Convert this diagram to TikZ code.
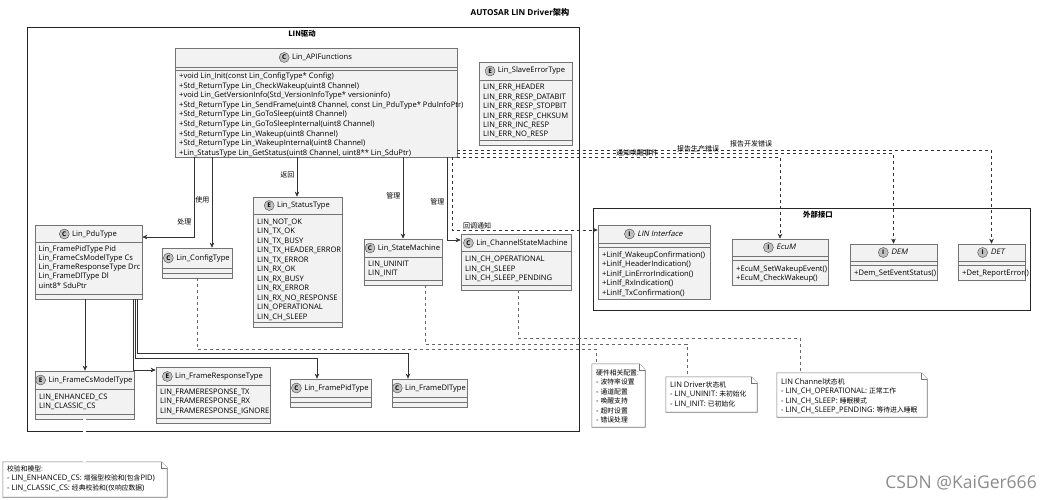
\documentclass[tikz,border=0pt]{standalone}
\usepackage{fontspec}
\setmainfont{Open Sans}
\newfontfamily\cjkfont{Noto Sans CJK SC}
\newfontfamily\slfont[FakeSlant=0.2]{Open Sans}
\newcommand{\cjk}[1]{{\cjkfont\fontsize{6.8}{9.5}\selectfont #1}}
\usetikzlibrary{positioning,fit,calc,arrows.meta}

% class frame: name, x1, y1, x2, y2, separator 1, separator 2
\newcommand{\umlframe}[7]{%
  \node[classbox, fit={(#2,#3) (#4,#5)}] (#1) {};
  \draw[sepline] (#1.west |- 0,#6) -- (#1.east |- 0,#6);
  \draw[sepline] (#1.west |- 0,#7) -- (#1.east |- 0,#7);
}
% class header: name, letter, title, y
\newcommand{\umlhead}[4]{%
  \node[hdr] (#1-t) at ($(#1.north |- 0,#4)+(6,0)$) {#3};
  \node[icon, left=2.5pt of #1-t] (#1-i) {#2};
}
% note: name, x1, y1, x2, y2
\newcommand{\umlnote}[5]{%
  \node[fit={(#2,#3) (#4,#5)}, inner sep=0pt] (#1) {};
  \draw[notebox] (#1.north west) -- ([xshift=-6pt]#1.north east)
    -- ([yshift=-6pt]#1.north east) -- (#1.south east) -- (#1.south west) -- cycle;
  \draw[notebox] ([xshift=-6pt]#1.north east) |- ([yshift=-6pt]#1.north east);
}

\begin{document}
\begin{tikzpicture}[x=1pt,y=-1pt,font=\fontsize{7.6}{9.5}\selectfont,
  classbox/.style={draw=black!55, fill=black!5, inner sep=0pt, line width=0.6pt},
  sepline/.style={draw=black!55, line width=0.5pt},
  pkg/.style={draw=black!85, fill=white, inner sep=0pt, line width=1pt},
  pkgtitle/.style={inner sep=0pt, font=\fontsize{7.4}{8}\selectfont\bfseries\cjkfont},
  hdr/.style={inner sep=0pt, text height=5.7pt, text depth=1.7pt},
  icon/.style={circle, draw=black!70, fill=black!25, inner sep=0pt, minimum size=10pt,
    font=\fontsize{6.4}{6}\selectfont\bfseries},
  item/.style={anchor=west, inner sep=0pt, text height=5.7pt, text depth=1.7pt},
  link/.style={draw=black!80, line width=0.6pt, -{Stealth[length=5pt,width=4.5pt,inset=1.5pt]}},
  dlink/.style={link, dash pattern=on 3pt off 3pt},
  notelink/.style={draw=black!60, line width=0.6pt, dash pattern=on 3pt off 3pt},
  notebox/.style={draw=black!55, fill=white, line width=0.6pt},
  lbl/.style={inner sep=0.5pt, font=\fontsize{7}{8}\selectfont\cjkfont}]

\fill[white] (0,0) rectangle (1044,500);
\useasboundingbox (0,0) rectangle (1044,500);

\node[font=\fontsize{8.2}{9}\selectfont\bfseries] (title) at (520,12)
  {AUTOSAR LIN Driver{\cjkfont 架构}};

% packages
\node[pkg, fit={(27,28) (579,431)}] (drv) {};
\node[pkgtitle] (drv-t) at (302,34) {LIN驱动};
\node[pkg, fit={(593,208) (1030,310)}] (ext) {};
\node[pkgtitle] (ext-t) at (818,215) {外部接口};

% LIN driver classes
\umlframe{api}{175}{48}{457}{157}{67}{70}
\umlhead{api}{C}{Lin\_APIFunctions}{57.5}
\foreach \t [count=\i] in {+void Lin\_Init(const Lin\_ConfigType* Config),
  +Std\_ReturnType Lin\_CheckWakeup(uint8 Channel),
  +void Lin\_GetVersionInfo(Std\_VersionInfoType* versioninfo),
  {+Std\_ReturnType Lin\_SendFrame(uint8 Channel, const Lin\_PduType* PduInfoPtr)},
  +Std\_ReturnType Lin\_GoToSleep(uint8 Channel),
  +Std\_ReturnType Lin\_GoToSleepInternal(uint8 Channel),
  +Std\_ReturnType Lin\_Wakeup(uint8 Channel),
  +Std\_ReturnType Lin\_WakeupInternal(uint8 Channel),
  {+Lin\_StatusType Lin\_GetStatus(uint8 Channel, uint8** Lin\_SduPtr)}}
  \node[item] (api-\i) at (179,66.9+9.6*\i) {\t};

\umlframe{sle}{479}{62}{572}{145}{80}{140}
\umlhead{sle}{E}{Lin\_SlaveErrorType}{71}
\foreach \t [count=\i] in {LIN\_ERR\_HEADER, LIN\_ERR\_RESP\_DATABIT, LIN\_ERR\_RESP\_STOPBIT,
  LIN\_ERR\_RESP\_CHKSUM, LIN\_ERR\_INC\_RESP, LIN\_ERR\_NO\_RESP}
  \node[item] (sle-\i) at (483,78.6+9.4*\i) {\t};

\umlframe{pdu}{35}{225}{142}{299}{242}{294}
\umlhead{pdu}{C}{Lin\_PduType}{234}
\foreach \t [count=\i] in {Lin\_FramePidType Pid, Lin\_FrameCsModelType Cs,
  Lin\_FrameResponseType Drc, Lin\_FrameDlType Dl, uint8* SduPtr}
  \node[item] (pdu-\i) at (38.5,239.7+9.3*\i) {\t};

\umlframe{cfg}{162}{248}{232}{278}{268}{273}
\umlhead{cfg}{C}{Lin\_ConfigType}{258}

\umlframe{st}{253}{197}{342}{327}{214}{322}
\umlhead{st}{E}{Lin\_StatusType}{205.5}
\foreach \t [count=\i] in {LIN\_NOT\_OK, LIN\_TX\_OK, LIN\_TX\_BUSY, LIN\_TX\_HEADER\_ERROR,
  LIN\_TX\_ERROR, LIN\_RX\_OK, LIN\_RX\_BUSY, LIN\_RX\_ERROR, LIN\_RX\_NO\_RESPONSE,
  LIN\_OPERATIONAL, LIN\_CH\_SLEEP}
  \node[item] (st-\i) at (257,212.5+9.5*\i) {\t};

\umlframe{sm}{364}{239}{442}{285}{257}{280}
\umlhead{sm}{C}{Lin\_StateMachine}{248}
\foreach \t [count=\i] in {LIN\_UNINIT, LIN\_INIT}
  \node[item] (sm-\i) at (368,254.5+9.5*\i) {\t};

\umlframe{chsm}{461}{234}{571}{290}{251}{285}
\umlhead{chsm}{C}{Lin\_ChannelStateMachine}{243}
\foreach \t [count=\i] in {LIN\_CH\_OPERATIONAL, LIN\_CH\_SLEEP, LIN\_CH\_SLEEP\_PENDING}
  \node[item] (chsm-\i) at (465,250+9.5*\i) {\t};

\umlframe{csm}{35}{371}{134}{419}{389}{414}
\umlhead{csm}{E}{Lin\_FrameCsModelType}{380}
\foreach \t [count=\i] in {LIN\_ENHANCED\_CS, LIN\_CLASSIC\_CS}
  \node[item] (csm-\i) at (39,387.5+9.5*\i) {\t};

\umlframe{frt}{156}{367}{270}{423}{385}{418}
\umlhead{frt}{E}{Lin\_FrameResponseType}{376.5}
\foreach \t [count=\i] in {LIN\_FRAMERESPONSE\_TX, LIN\_FRAMERESPONSE\_RX, LIN\_FRAMERESPONSE\_IGNORE}
  \node[item] (frt-\i) at (160,382.5+9.5*\i) {\t};

\umlframe{pid}{290}{379}{371}{407}{397}{402}
\umlhead{pid}{C}{Lin\_FramePidType}{388}
\umlframe{dl}{392}{379}{467}{407}{397}{402}
\umlhead{dl}{C}{Lin\_FrameDlType}{388}

% external interfaces
\umlframe{lif}{598}{225}{710}{299}{243}{247}
\umlhead{lif}{I}{\slfont LIN Interface}{234}
\foreach \t [count=\i] in {+LinIf\_WakeupConfirmation(), +LinIf\_HeaderIndication(),
  +LinIf\_LinErrorIndication(), +LinIf\_RxIndication(), +LinIf\_TxConfirmation()}
  \node[item] (lif-\i) at (602,246.1+9.4*\i) {\t};

\umlframe{ecum}{732}{239}{828}{285}{256}{260}
\umlhead{ecum}{I}{\slfont EcuM}{247.5}
\foreach \t [count=\i] in {+EcuM\_SetWakeupEvent(), +EcuM\_CheckWakeup()}
  \node[item] (ecum-\i) at (736,259.5+9.5*\i) {\t};

\umlframe{dem}{850}{244}{937}{280}{261}{265}
\umlhead{dem}{I}{\slfont DEM}{252.5}
\node[item] (dem-1) at (854,273) {+Dem\_SetEventStatus()};

\umlframe{det}{958}{244}{1025}{280}{261}{265}
\umlhead{det}{I}{\slfont DET}{252.5}
\node[item] (det-1) at (962,273) {+Det\_ReportError()};

% notes
\umlnote{hwn}{592}{364}{645}{427}
\foreach \t [count=\i] in {\cjk{硬件相关配置:}, - \cjk{波特率设置}, - \cjk{通道配置},
  - \cjk{唤醒支持}, - \cjk{超时设置}, - \cjk{错误处理}}
  \node[item] (hwn-\i) at (596,363.5+9.5*\i) {\t};
\umlnote{drvn}{666}{377}{757}{412}
\foreach \t [count=\i] in {LIN Driver\cjk{状态机}, - LIN\_UNINIT: \cjk{未初始化},
  - LIN\_INIT: \cjk{已初始化}}
  \node[item] (drvn-\i) at (670,375.5+9.5*\i) {\t};
\umlnote{chn}{777}{373}{927}{417}
\foreach \t [count=\i] in {LIN Channel\cjk{状态机}, - LIN\_CH\_OPERATIONAL: \cjk{正常工作},
  - LIN\_CH\_SLEEP: \cjk{睡眠模式}, - LIN\_CH\_SLEEP\_PENDING: \cjk{等待进入睡眠}}
  \node[item] (chn-\i) at (781,372.5+9.5*\i) {\t};
\umlnote{ckn}{3}{462}{167}{497}
\foreach \t [count=\i] in {\cjk{校验和模型:}, - LIN\_ENHANCED\_CS: \cjk{增强型校验和}(\cjk{包含}PID),
  - LIN\_CLASSIC\_CS: \cjk{经典校验和}(\cjk{仅响应数据})}
  \node[item] (ckn-\i) at (7,459.5+9.5*\i) {\t};

% API relations
\draw[link] (api.south -| 194,0) |- (pdu.east |- 0,237);
\node[lbl, anchor=east] (l-proc) at (192,222) {处理};
\draw[link] (api.south -| 212,0) -- (cfg.north -| 212,0);
\node[lbl, anchor=east] (l-use) at (210,200) {使用};
\draw[link] (api.south -| 297,0) -- (st.north -| 297,0);
\node[lbl, anchor=east] (l-ret) at (295,175) {返回};
\draw[link] (api.south -| 403,0) -- (sm.north -| 403,0);
\node[lbl, anchor=east] (l-man1) at (401,196) {管理};
\draw[link] (api.south -| 447,0) |- (chsm.west |- 0,240);
\node[lbl, anchor=east] (l-man2) at (445,202) {管理};

% callbacks and error reports
\draw[dlink] (api.south -| 452,0) |- (lif.west |- 0,230);
\node[lbl] (l-cb) at (477,226) {回调通知};
\draw[dlink] (api.east |- 0,157) -| (ecum.north);
\draw[dlink] (api.east |- 0,153.5) -| (dem.north);
\draw[dlink] (api.east |- 0,150) -| (det.north);
\node[lbl] (l-wk) at (637,153) {通知唤醒事件};
\node[lbl] (l-dem) at (698,149) {报告生产错误};
\node[lbl] (l-det) at (751,144) {报告开发错误};

% PDU members
\draw[link] (pdu.south -| 85,0) -- (csm.north -| 85,0);
\draw[link] (pdu.south -| 133,0) |- (frt.west |- 0,370);
\draw[link] (pdu.south -| 135,0) -- (135,358) -| (pid.north -| 317,0);
\draw[link] (pdu.south -| 137,0) -- (137,353) -| (dl.north -| 408,0);

% note links
\draw[notelink] (cfg.south -| 197,0) -- (197,349) -| (hwn.north -| 596,0);
\draw[notelink] (sm.south -| 425,0) -- (425,344) -| (drvn.north -| 687,0);
\draw[notelink] (chsm.south -| 518,0) -- (518,338) -| (chn.north -| 800,0);
\draw[draw=black!45, line width=0.5pt, double=white, double distance=2.5pt] (csm.south) -- (csm.south |- ckn.north);

\node[text=black!45, font=\fontsize{17.5}{18}\selectfont] (wm) at (961,483) {CSDN @KaiGer666};
\end{tikzpicture}
\end{document}
